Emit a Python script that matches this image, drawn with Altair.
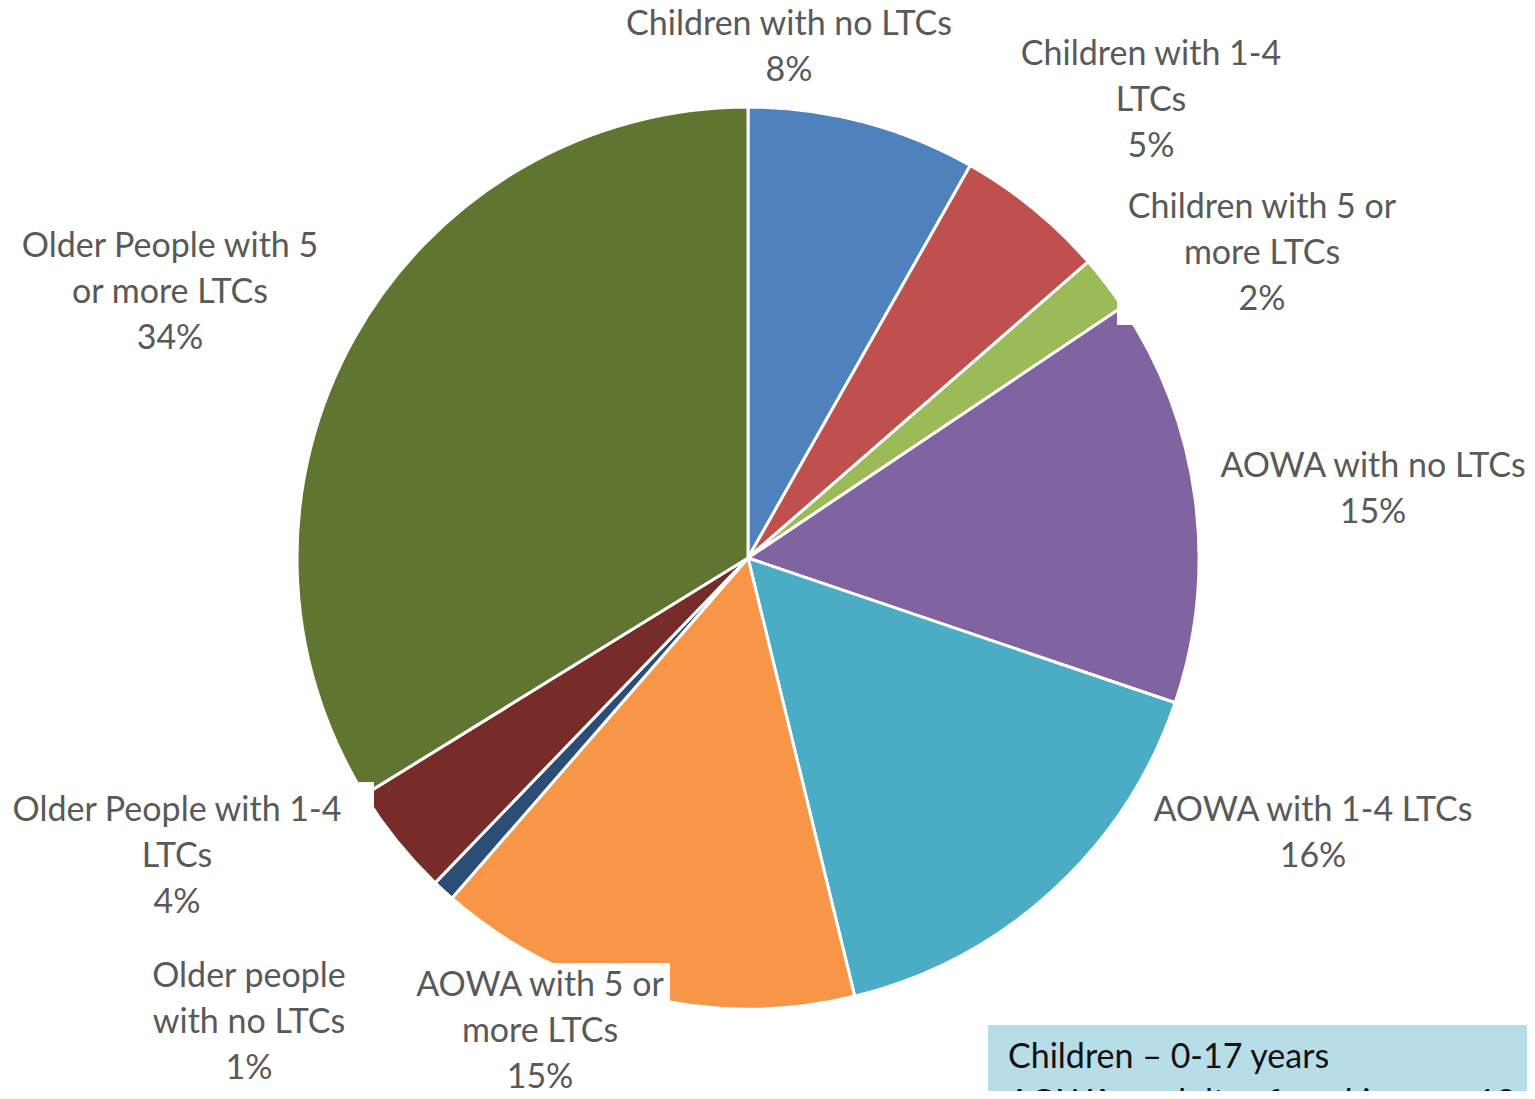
import altair as alt
import pandas as pd

categories = [
    "Children with no LTCs",
    "Children with 1-4 LTCs",
    "Children with 5 or more LTCs",
    "AOWA with no LTCs",
    "AOWA with 1-4 LTCs",
    "AOWA with 5 or more LTCs",
    "Older people with no LTCs",
    "Older People with 1-4 LTCs",
    "Older People with 5 or more LTCs",
]
values = [8.2, 5.4, 2.0, 14.6, 16.0, 15.2, 0.8, 4.0, 33.8]
colors = ["#4F81BD", "#C0504D", "#9BBB59", "#8064A2", "#4BACC6",
          "#F79646", "#2C4D75", "#772C2A", "#5F7530"]

# label text as wrapped in the reference
label_lines = [
    ["Children with no LTCs"],
    ["Children with 1-4", "LTCs"],
    ["Children with 5 or", "more LTCs"],
    ["AOWA with no LTCs"],
    ["AOWA with 1-4 LTCs"],
    ["AOWA with 5 or", "more LTCs"],
    ["Older people", "with no LTCs"],
    ["Older People with 1-4", "LTCs"],
    ["Older People with 5", "or more LTCs"],
]
# first-line centres of each label (chart pixels)
label_x = [781, 1143, 1254, 1365, 1305, 532, 241, 169, 162]
label_y = [17, 47, 200, 459, 803, 978, 969, 803, 239]

note_lines = ["Children \u2013 0-17 years",
              "AOWA \u2013 adults of working age 18-64 years"]

W, H = 1519, 1083
CX, CY, R = 740, 550, 451

pie_df = pd.DataFrame({"category": categories, "value": values,
                       "idx": list(range(len(categories)))})

lab_df = pd.DataFrame({
    "text": [lines + [f"{round(v)}%"] for lines, v in zip(label_lines, values)],
    "lx": label_x, "ly": label_y,
})

# white label-background boxes that cut into the pie in the reference
box_df = pd.DataFrame({
    "x": [1109, 5, 405], "x2": [1400, 366, 662],
    "y": [180, 774, 955], "y2": [317, 930, 1091],
})

note_df = pd.DataFrame({"x": [980], "x2": [W], "y": [1017], "y2": [H]})
note_txt = pd.DataFrame({"t": note_lines, "x": [1000, 1000], "y": [1050, 1096]})

pie = alt.Chart(pie_df).mark_arc(
    radius=R, stroke="white", strokeWidth=3
).encode(
    theta=alt.Theta("value:Q", stack=True),
    order=alt.Order("idx:Q"),
    color=alt.Color("category:N", scale=alt.Scale(domain=categories, range=colors),
                    legend=None),
    x=alt.value(CX), y=alt.value(CY),
)

boxes = alt.Chart(box_df).mark_rect(color="white").encode(
    x=alt.X("x:Q", scale=None), x2="x2:Q",
    y=alt.Y("y:Q", scale=None), y2="y2:Q",
)

labels = alt.Chart(lab_df).mark_text(
    font="Lato", fontSize=34, color="#595959", lineHeight=46,
    align="center", baseline="middle",
).encode(
    x=alt.X("lx:Q", scale=None), y=alt.Y("ly:Q", scale=None), text="text",
)

note_box = alt.Chart(note_df).mark_rect(color="#B7DDE8").encode(
    x=alt.X("x:Q", scale=None), x2="x2:Q",
    y=alt.Y("y:Q", scale=None), y2="y2:Q",
)
note_text = alt.Chart(note_txt).mark_text(
    font="Lato", fontSize=34, color="#111111", align="left", baseline="middle",
).encode(
    x=alt.X("x:Q", scale=None), y=alt.Y("y:Q", scale=None), text="t:N",
)

chart = alt.layer(pie, boxes, labels, note_box, note_text).properties(
    width=W, height=H, padding=0, autosize=alt.AutoSizeParams(type="none"),
).configure_view(stroke=None)

chart.save("out.html", embed_options={"renderer": "svg", "actions": False})
